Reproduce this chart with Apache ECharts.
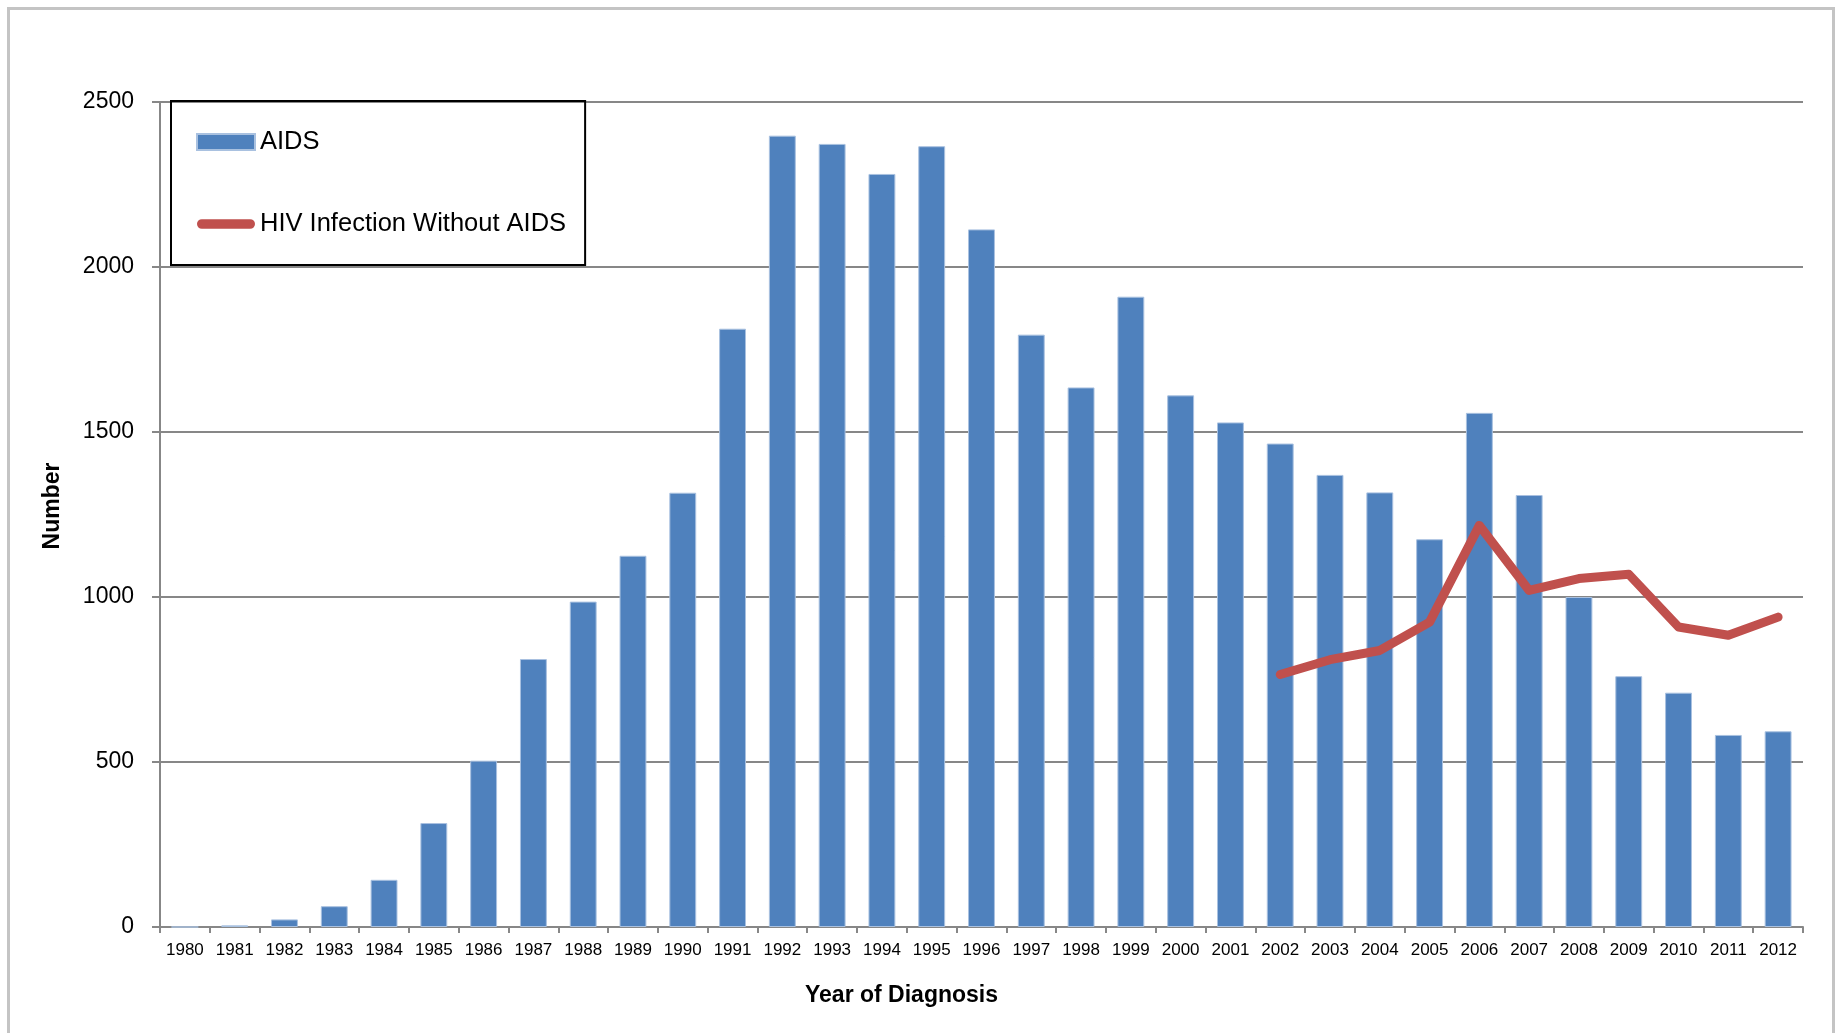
<!DOCTYPE html>
<html>
<head>
<meta charset="utf-8">
<script src="https://cdn.jsdelivr.net/npm/echarts@6/dist/echarts.min.js"></script>
<style>
html,body{margin:0;padding:0;background:#fff;}
#chart{width:1835px;height:1033px;}
</style>
</head>
<body>
<div id="chart"></div>
<script>
const years = ['1980','1981','1982','1983','1984','1985','1986','1987','1988','1989','1990','1991','1992','1993','1994','1995','1996','1997','1998','1999','2000','2001','2002','2003','2004','2005','2006','2007','2008','2009','2010','2011','2012'];
const aids = [0,5,23,63,143,315,504,812,986,1125,1316,1813,2398,2373,2282,2366,2114,1795,1635,1910,1611,1529,1465,1370,1317,1175,1558,1309,1000,760,710,582,593];
const hivNoAids = [null,null,null,null,null,null,null,null,null,null,null,null,null,null,null,null,null,null,null,null,null,null,765,810,838,924,1217,1020,1056,1069,909,884,939];
const yTicks = [0,500,1000,1500,2000,2500];

const FONT = 'Liberation Sans';
const chart = echarts.init(document.getElementById('chart'), null, {renderer:'canvas'});
chart.setOption({
  animation:false,
  backgroundColor:'#ffffff',
  textStyle:{fontFamily:FONT},
  grid:{left:160,right:32,top:102,bottom:106,containLabel:false},
  legend:{
    show:true,
    orient:'vertical',
    left:171, top:101,
    padding:[28,19,28,25],
    borderColor:'#000',
    borderWidth:2,
    itemGap:56,
    itemWidth:58,
    itemHeight:16,
    textStyle:{fontFamily:FONT,fontSize:25.5,color:'#000'},
    data:[
      {name:'AIDS', icon:'rect'},
      {name:'HIV Infection Without AIDS', icon:'path://M5,0 L55,0 A5,5 0 0 1 55,10 L5,10 A5,5 0 0 1 5,0 Z'}
    ]
  },
  xAxis:{
    type:'category',
    data:years,
    boundaryGap:true,
    axisLine:{show:true,lineStyle:{color:'#878787',width:2}},
    axisTick:{show:true,length:6,lineStyle:{color:'#878787',width:2},alignWithLabel:false},
    axisLabel:{fontFamily:FONT,fontSize:17,color:'#000',margin:15,interval:0}
  },
  yAxis:{
    type:'value',
    min:0,max:2500,interval:500,
    axisLine:{show:true,lineStyle:{color:'#878787',width:2}},
    axisTick:{show:true,length:8,lineStyle:{color:'#878787',width:2}},
    axisLabel:{fontFamily:FONT,fontSize:23,color:'#000',margin:26,
      formatter:v=>yTicks.includes(v)?String(v):''},
    splitLine:{show:true,lineStyle:{color:'#878787',width:2}}
  },
  series:[
    {
      name:'AIDS',
      type:'bar',
      data:aids,
      barWidth:'54%',
      itemStyle:{color:'#4f81bd',borderColor:'#a9c1e0',borderWidth:1}
    },
    {
      name:'HIV Infection Without AIDS',
      type:'line',
      data:hivNoAids,
      showSymbol:false,
      symbol:'none',
      connectNulls:false,
      lineStyle:{color:'#c0504d',width:9,cap:'round',join:'round'},
      itemStyle:{color:'#c0504d'}
    }
  ],
  graphic:[
    {type:'rect',left:6,top:6,shape:{x:0,y:0,width:1825,height:1100},
     style:{fill:'none',stroke:'#c4c4c4',lineWidth:3},silent:true,z:-1},
    {type:'text',left:900-95,top:984,
     style:{text:'Year of Diagnosis',font:'bold 23px "Liberation Sans"',fill:'#000'}},
    {type:'text',x:53,y:506,rotation:Math.PI/2,
     style:{text:'Number',font:'bold 23px "Liberation Sans"',fill:'#000',align:'center',verticalAlign:'middle'}}
  ]
});
</script>
</body>
</html>
